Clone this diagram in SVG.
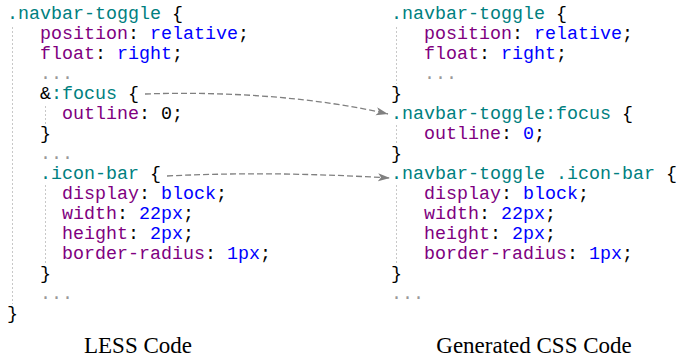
<svg xmlns="http://www.w3.org/2000/svg" width="678" height="362" viewBox="0 0 678 362">
<style>
.code{font-family:"Liberation Mono","DejaVu Sans Mono",monospace;font-size:18.33px;fill:#000}
.sel{fill:#008080}
.prop{fill:#800080}
.val{fill:#0000ff}
.dots{fill:#999}
.guide{stroke:#c8c8c8;stroke-width:1;stroke-dasharray:2,2;fill:none}
.conn{stroke:#808080;stroke-width:1.3;stroke-dasharray:6,3;fill:none}
.cap{font-family:"Liberation Serif","Times New Roman",serif;font-size:23px;fill:#000;text-anchor:middle}
</style>
<defs>
<marker id="arrow" markerUnits="userSpaceOnUse" markerWidth="14" markerHeight="10" refX="12" refY="4" orient="auto">
<path d="M0,0 L12,4 L0,8 L3,4 z" fill="#808080"/>
</marker>
</defs>
<rect width="678" height="362" fill="#fff"/>
<g id="less-code">
<line class="guide" x1="12.5" y1="27" x2="12.5" y2="304"/>
<line class="guide" x1="45.5" y1="106" x2="45.5" y2="124"/>
<line class="guide" x1="45.5" y1="185" x2="45.5" y2="264"/>
<text class="code" x="7" y="19"><tspan class="sel">.navbar-toggle</tspan> {</text>
<text class="code" x="40" y="39"><tspan class="prop">position</tspan>: <tspan class="val">relative</tspan>;</text>
<text class="code" x="40" y="59"><tspan class="prop">float</tspan>: <tspan class="val">right</tspan>;</text>
<text class="code dots" x="40" y="79">...</text>
<text class="code" x="40" y="99">&amp;<tspan class="sel">:focus</tspan> {</text>
<text class="code" x="62" y="119"><tspan class="prop">outline</tspan>: 0;</text>
<text class="code" x="40" y="139">}</text>
<text class="code dots" x="40" y="159">...</text>
<text class="code" x="40" y="179"><tspan class="sel">.icon-bar</tspan> {</text>
<text class="code" x="62" y="199"><tspan class="prop">display</tspan>: <tspan class="val">block</tspan>;</text>
<text class="code" x="62" y="219"><tspan class="prop">width</tspan>: <tspan class="val">22px</tspan>;</text>
<text class="code" x="62" y="239"><tspan class="prop">height</tspan>: <tspan class="val">2px</tspan>;</text>
<text class="code" x="62" y="259"><tspan class="prop">border-radius</tspan>: <tspan class="val">1px</tspan>;</text>
<text class="code" x="40" y="279">}</text>
<text class="code dots" x="40" y="299">...</text>
<text class="code" x="7" y="319">}</text>
</g>
<g id="css-code">
<line class="guide" x1="396.5" y1="27" x2="396.5" y2="84"/>
<line class="guide" x1="396.5" y1="125" x2="396.5" y2="145"/>
<line class="guide" x1="396.5" y1="185" x2="396.5" y2="264"/>
<text class="code" x="391" y="19"><tspan class="sel">.navbar-toggle</tspan> {</text>
<text class="code" x="424" y="39"><tspan class="prop">position</tspan>: <tspan class="val">relative</tspan>;</text>
<text class="code" x="424" y="59"><tspan class="prop">float</tspan>: <tspan class="val">right</tspan>;</text>
<text class="code dots" x="424" y="79">...</text>
<text class="code" x="391" y="99">}</text>
<text class="code" x="391" y="119"><tspan class="sel">.navbar-toggle:focus</tspan> {</text>
<text class="code" x="424" y="139"><tspan class="prop">outline</tspan>: <tspan class="val">0</tspan>;</text>
<text class="code" x="391" y="159">}</text>
<text class="code" x="391" y="179"><tspan class="sel">.navbar-toggle .icon-bar</tspan> {</text>
<text class="code" x="424" y="199"><tspan class="prop">display</tspan>: <tspan class="val">block</tspan>;</text>
<text class="code" x="424" y="219"><tspan class="prop">width</tspan>: <tspan class="val">22px</tspan>;</text>
<text class="code" x="424" y="239"><tspan class="prop">height</tspan>: <tspan class="val">2px</tspan>;</text>
<text class="code" x="424" y="259"><tspan class="prop">border-radius</tspan>: <tspan class="val">1px</tspan>;</text>
<text class="code" x="391" y="279">}</text>
<text class="code dots" x="391" y="299">...</text>
</g>
<g id="connectors">
<path class="conn" d="M145,94 C230,91 320,98 388,114" marker-end="url(#arrow)"/>
<path class="conn" d="M167,176 C250,172 320,174 390,178" marker-end="url(#arrow)"/>
</g>
<g id="captions">
<text class="cap" x="138" y="353">LESS Code</text>
<text class="cap" x="534" y="353">Generated CSS Code</text>
</g>
</svg>
